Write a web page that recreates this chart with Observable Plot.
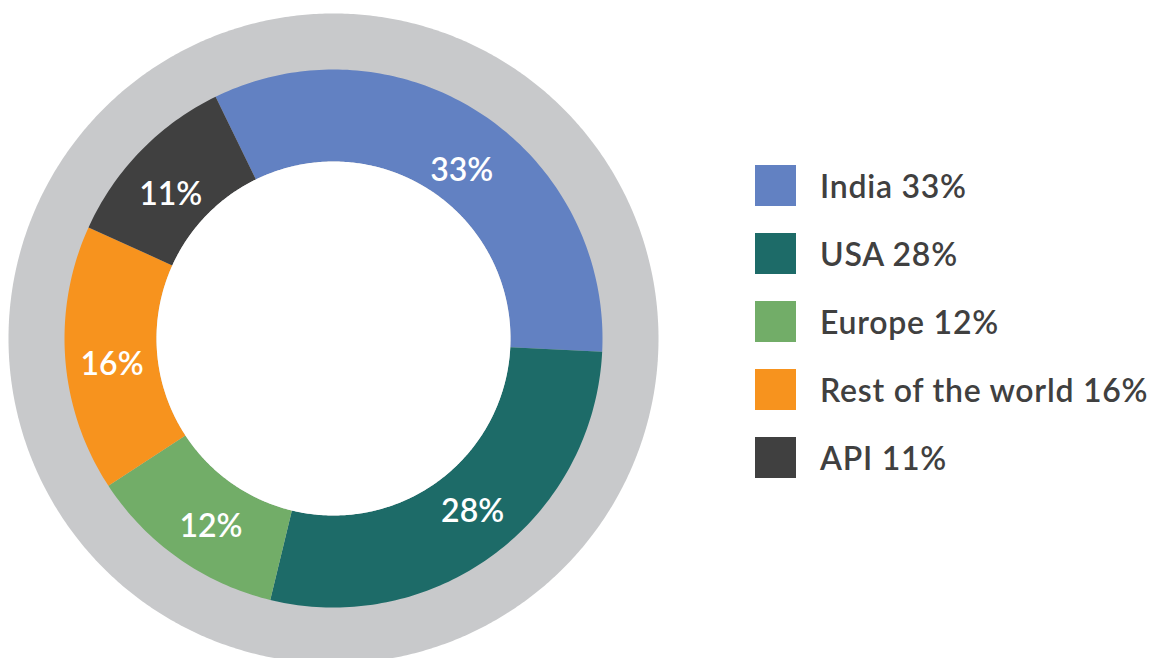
<!DOCTYPE html>
<html>
<head>
<meta charset="utf-8">
<script src="https://cdn.jsdelivr.net/npm/d3@7"></script>
<script src="https://cdn.jsdelivr.net/npm/@observablehq/plot@0.6"></script>
<style>
  html, body { margin: 0; padding: 0; background: #fff; overflow: hidden; width: 1151px; height: 658px; }
  #chart { position: absolute; left: -6px; top: -1px; }
  #legend { position: absolute; left: 755px; top: 165px; font-family: Lato, sans-serif; font-weight: 600; color: #404040; }
  .item { display: flex; align-items: center; height: 41px; margin-bottom: 27px; }
  .sw { width: 41px; height: 41px; margin-right: 24px; flex: none; }
  .lb { font-size: 32px; letter-spacing: 0.75px; white-space: nowrap; }
</style>
</head>
<body>
<div id="chart"></div>
<div id="legend"></div>
<script>
const categories = ["India", "USA", "Europe", "Rest of the world", "API"];
const values = [33, 28, 12, 16, 11];
const colors = ["#6281c2", "#1d6b68", "#72ad68", "#f7931e", "#404040"];
const startAngle = -26; // degrees clockwise from 12 o'clock

// radii in degrees of arc (10 px per degree)
const rGrey = 32.5, rOuter = 26.9, rInner = 17.7;
// label placement tweaks (style): angle shift from slice middle, radius
const labelShift = {"India": [4, 21.1], "USA": [-2, 22.2], "Europe": [-2.2, 22.5], "Rest of the world": [-2.4, 22.3], "API": [-2.8, 21.7]};

const total = d3.sum(values);
const lon = theta => 180 - theta; // clockwise-from-top angle -> longitude
const lat = r => 90 - r;

let acc = startAngle;
const slices = categories.map((c, i) => {
  const a0 = acc, a1 = acc + values[i] / total * 360;
  acc = a1;
  return {name: c, value: values[i], color: colors[i], a0, a1, mid: (a0 + a1) / 2};
});

function ring(a0, a1) {
  const n = Math.max(2, Math.ceil((a1 - a0) / 1));
  const pts = [];
  for (let k = 0; k <= n; k++) { const t = a0 + (a1 - a0) * k / n; pts.push([lon(t), lat(rOuter)]); }
  for (let k = n; k >= 0; k--) { const t = a0 + (a1 - a0) * k / n; pts.push([lon(t), lat(rInner)]); }
  pts.push(pts[0]);
  let poly = {type: "Polygon", coordinates: [pts]};
  if (d3.geoArea(poly) > 2 * Math.PI) poly = {type: "Polygon", coordinates: [pts.slice().reverse()]};
  return poly;
}

const features = slices.map(s => ({type: "Feature", properties: s, geometry: ring(s.a0, s.a1)}));

const plot = Plot.plot({
  width: 678,
  height: 678,
  margin: 0,
  projection: {
    type: "azimuthal-equidistant",
    rotate: [0, -90],
    domain: d3.geoCircle().center([0, 90]).radius(33.9).precision(1)()
  },
  marks: [
    Plot.geo([d3.geoCircle().center([0, 90]).radius(rGrey).precision(0.5)()], {fill: "#c8c9cb", stroke: "none"}),
    Plot.geo(features, {fill: d => d.properties.color, stroke: "none"}),
    Plot.geo([d3.geoCircle().center([0, 90]).radius(rInner).precision(0.5)()], {fill: "#ffffff", stroke: "none"}),
    Plot.text(slices, {
      x: d => lon(d.mid + labelShift[d.name][0]),
      y: d => lat(labelShift[d.name][1]),
      text: d => d.value + "%",
      fill: "white",
      fontSize: 32,
      fontWeight: 600,
      fontFamily: "Lato",
      letterSpacing: 1
    })
  ]
});
document.getElementById("chart").appendChild(plot);

const legend = d3.select("#legend");
slices.forEach(s => {
  const it = legend.append("div").attr("class", "item");
  it.append("div").attr("class", "sw").style("background", s.color);
  it.append("div").attr("class", "lb").text(`${s.name} ${s.value}%`);
});
</script>
</body>
</html>
